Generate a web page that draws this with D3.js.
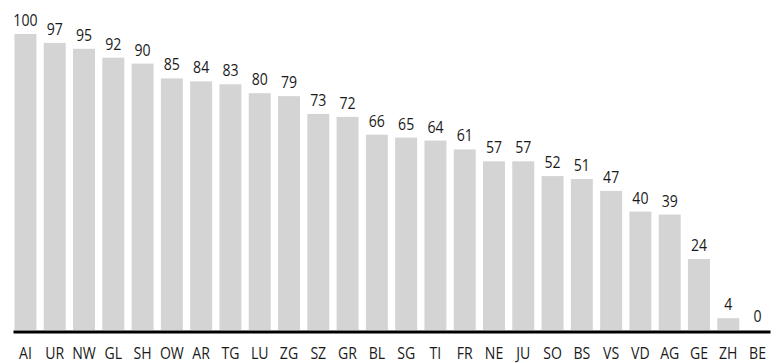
<!DOCTYPE html>
<html>
<head>
<meta charset="utf-8">
<script src="https://cdn.jsdelivr.net/npm/d3@7"></script>
<style>
  body { margin: 0; background: #fff; }
  svg text { font-family: "Open Sans", "Noto Sans", sans-serif; fill: #1a1a1a; }
</style>
</head>
<body>
<div id="chart"></div>
<script>
// cantons, sorted by value
var cantons = ['AI','UR','NW','GL','SH','OW','AR','TG','LU','ZG','SZ','GR','BL','SG','TI','FR','NE','JU','SO','BS','VS','VD','AG','GE','ZH','BE'];
var values = [100,97,95,92,90,85,84,83,80,79,73,72,66,65,64,61,57,57,52,51,47,40,39,24,4,0];

var width = 778, height = 363;
var margin = {top: 34, right: 8, bottom: 33, left: 13};
var baseline = height - margin.bottom;
var squeeze = 0.88; // narrow the glyphs, the original uses a condensed face

var svg = d3.select('#chart')
    .append('svg')
    .attr('width', width)
    .attr('height', height);

var x = d3.scaleBand()
    .domain(cantons)
    .range([margin.left, width - margin.right])
    .paddingInner(0.25)
    .paddingOuter(0.05);

var y = d3.scaleLinear()
    .domain([0, 100])
    .range([baseline, margin.top]);

var data = cantons.map(function(c, i){ return {canton: c, value: values[i]}; });

svg.selectAll('rect.bar')
    .data(data)
    .enter().append('rect')
    .attr('class', 'bar')
    .attr('x', function(d){ return x(d.canton); })
    .attr('y', function(d){ return y(d.value); })
    .attr('width', x.bandwidth())
    .attr('height', function(d){ return baseline - y(d.value); })
    .attr('fill', '#d4d4d4');

svg.selectAll('text.val')
    .data(data)
    .enter().append('text')
    .attr('class', 'val')
    .attr('transform', function(d){
        return 'translate(' + (x(d.canton) + x.bandwidth() / 2) + ',' + (y(d.value) - 8) + ') scale(' + squeeze + ',1)';
    })
    .attr('text-anchor', 'middle')
    .style('font-size', '16px')
    .text(function(d){ return d.value; });

// x axis: thick black baseline, no ticks
var xAxis = svg.append('g')
    .attr('transform', 'translate(0,' + (baseline + 1.5) + ')')
    .call(d3.axisBottom(x).tickSize(0).tickPadding(16));
xAxis.select('.domain')
    .attr('stroke', '#000')
    .attr('stroke-width', 3);
xAxis.selectAll('.tick text')
    .attr('transform', 'scale(' + squeeze + ',1)')
    .style('font-size', '16px')
    .style('font-family', '"Open Sans", "Noto Sans", sans-serif')
    .attr('fill', '#1a1a1a');
</script>
</body>
</html>
